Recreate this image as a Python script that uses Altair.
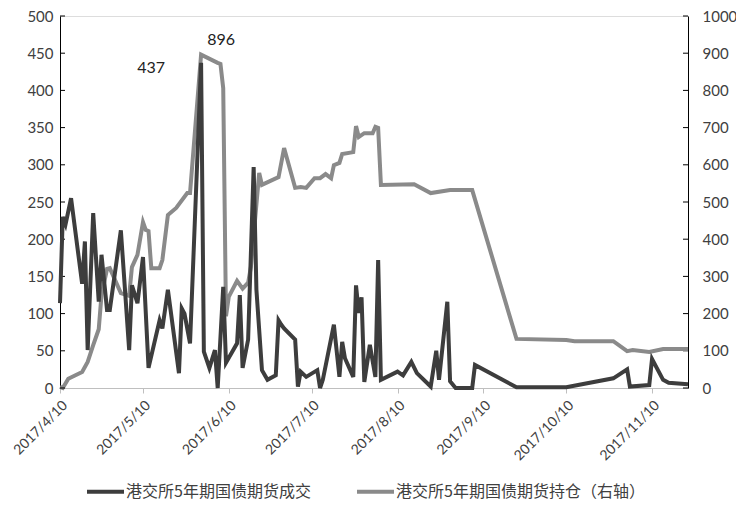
import altair as alt
import pandas as pd

# ---- data ----
series_names = ["港交所5年期国债期货成交", "港交所5年期国债期货持仓（右轴）"]

vol_dates = ["2017-04-10", "2017-04-11", "2017-04-12", "2017-04-14", "2017-04-18", "2017-04-19",
             "2017-04-20", "2017-04-22", "2017-04-24", "2017-04-25", "2017-04-27", "2017-04-28",
             "2017-05-02", "2017-05-05", "2017-05-06", "2017-05-08", "2017-05-10", "2017-05-12",
             "2017-05-16", "2017-05-17", "2017-05-19", "2017-05-23", "2017-05-24", "2017-05-25",
             "2017-05-27", "2017-05-31", "2017-06-01", "2017-06-03", "2017-06-05", "2017-06-06",
             "2017-06-08", "2017-06-09", "2017-06-13", "2017-06-14", "2017-06-15", "2017-06-17",
             "2017-06-19", "2017-06-20", "2017-06-22", "2017-06-24", "2017-06-27", "2017-06-28",
             "2017-06-29", "2017-06-30", "2017-07-04", "2017-07-05", "2017-07-06", "2017-07-08",
             "2017-07-12", "2017-07-13", "2017-07-14", "2017-07-18", "2017-07-20", "2017-07-21",
             "2017-07-22", "2017-07-25", "2017-07-26", "2017-07-27", "2017-07-28", "2017-07-29",
             "2017-07-31", "2017-08-02", "2017-08-03", "2017-08-04", "2017-08-10", "2017-08-12",
             "2017-08-15", "2017-08-17", "2017-08-22", "2017-08-24", "2017-08-25", "2017-08-28",
             "2017-08-29", "2017-08-31", "2017-09-06", "2017-09-07", "2017-09-22", "2017-10-10",
             "2017-10-27", "2017-11-01", "2017-11-02", "2017-11-09", "2017-11-10", "2017-11-14",
             "2017-11-16", "2017-11-23"]
vol_values = [114, 230, 220, 255, 140, 197,
              51, 235, 116, 179, 105, 105,
              212, 51, 138, 114, 176, 27,
              91, 80, 132, 20, 107, 100,
              60, 437, 49, 27, 51, 0,
              136, 34, 60, 125, 27, 65,
              297, 132, 24, 11, 17, 91,
              85, 80, 65, 2, 22, 15,
              24, 0, 11, 85, 15, 62,
              40, 15, 138, 101, 122, 8,
              58, 15, 172, 11, 22, 17,
              35, 20, 2, 50, 11, 116,
              9, 0, 0, 31, 1, 1,
              13, 25, 2, 4, 39, 11,
              7, 5]

oi_dates = ["2017-04-10", "2017-04-11", "2017-04-13", "2017-04-18", "2017-04-20", "2017-04-22",
            "2017-04-24", "2017-04-25", "2017-04-27", "2017-04-28", "2017-05-02", "2017-05-05",
            "2017-05-06", "2017-05-08", "2017-05-10", "2017-05-11", "2017-05-12", "2017-05-13",
            "2017-05-16", "2017-05-17", "2017-05-19", "2017-05-22", "2017-05-26", "2017-05-27",
            "2017-05-31", "2017-06-06", "2017-06-07", "2017-06-08", "2017-06-09", "2017-06-10",
            "2017-06-13", "2017-06-15", "2017-06-17", "2017-06-18", "2017-06-21", "2017-06-22",
            "2017-06-28", "2017-06-30", "2017-07-04", "2017-07-06", "2017-07-08", "2017-07-11",
            "2017-07-13", "2017-07-15", "2017-07-17", "2017-07-18", "2017-07-20", "2017-07-21",
            "2017-07-25", "2017-07-26", "2017-07-27", "2017-07-29", "2017-08-01", "2017-08-02",
            "2017-08-03", "2017-08-04", "2017-08-16", "2017-08-22", "2017-08-29", "2017-09-06",
            "2017-09-22", "2017-10-10", "2017-10-13", "2017-10-27", "2017-11-01", "2017-11-03",
            "2017-11-09", "2017-11-14", "2017-11-23"]
oi_values = [3, 0, 25, 43, 70, 115,
             158, 250, 320, 322, 255, 248,
             325, 358, 446, 425, 422, 322,
             322, 344, 465, 484, 524, 524,
             896, 874, 871, 806, 193, 245,
             288, 267, 283, 325, 578, 546,
             567, 645, 538, 540, 538, 564,
             564, 575, 564, 599, 605, 629,
             634, 704, 675, 685, 685, 702,
             699, 546, 548, 524, 532, 532,
             132, 129, 126, 126, 99, 102,
             97, 105, 105]

note_dates = ["2017-05-31", "2017-05-31"]
note_values = [437, 896]
note_labels = ["437", "896"]

tick_months = [4, 5, 6, 7, 8, 9, 10, 11]
left_ticks = list(range(0, 501, 50))
right_ticks = list(range(0, 1001, 100))

dark = "#3d3d3d"
grey = "#8a8a8a"
font = "Lato"

vol_df = pd.DataFrame({"date": vol_dates, "value": vol_values, "series": series_names[0]})
oi_df = pd.DataFrame({"date": oi_dates, "value": oi_values, "series": series_names[1]})
note_l = pd.DataFrame({"date": note_dates[:1], "value": note_values[:1], "label": note_labels[:1]})
note_r = pd.DataFrame({"date": note_dates[1:], "value": note_values[1:], "label": note_labels[1:]})
lt_df = pd.DataFrame({"value": left_ticks})
rt_df = pd.DataFrame({"value": right_ticks})

x_scale = alt.Scale(type="utc",
                    domain=[alt.DateTime(year=2017, month=4, date=10, utc=True),
                            alt.DateTime(year=2017, month=11, date=23, utc=True)],
                    nice=False)
x_axis = alt.Axis(values=[alt.DateTime(year=2017, month=m, date=10, utc=True) for m in tick_months],
                  labelExpr="utcFormat(datum.value, '%Y/%-m/%-d')",
                  labelAngle=-45, labelAlign="right", labelOffset=5,
                  labelBaseline="middle", labelPadding=10, tickSize=5, tickColor="#bfbfbf",
                  domainColor="#bfbfbf", labelFont=font, labelFontSize=14, labelColor="#404040",
                  title=None, grid=False, labelOverlap=False)
x_enc = alt.X("date:T", scale=x_scale, axis=x_axis)

color = alt.Color("series:N",
                  scale=alt.Scale(domain=series_names, range=[dark, grey]),
                  legend=alt.Legend(title=None, orient="none", direction="horizontal",
                                    legendX=25, legendY=455,
                                    symbolSize=1369, symbolStrokeWidth=4, columnPadding=38,
                                    labelFont="Noto Sans CJK SC", labelFontSize=16,
                                    labelColor="#404040", labelOffset=0, labelLimit=400))

left_axis = alt.Axis(values=left_ticks, format="d", labelFont=font, labelFontSize=15,
                     labelColor="#404040", domainColor="#000000", ticks=False, labelPadding=7,
                     grid=False, title=None)
right_axis = alt.Axis(values=right_ticks, format="d", orient="right", labelFont=font,
                      labelFontSize=15, labelColor="#404040", domainColor="#000000", ticks=False,
                      labelPadding=14, grid=False, title=None)
left_scale = alt.Scale(domain=[0, 500], nice=False)
right_scale = alt.Scale(domain=[0, 1000], nice=False)

vol_line = alt.Chart(vol_df).mark_line(strokeWidth=4).encode(
    x=x_enc, y=alt.Y("value:Q", scale=left_scale, axis=left_axis), color=color)
vol_note = alt.Chart(note_l).mark_text(font=font, fontSize=16, color="#222222", dx=-50, dy=5).encode(
    x=x_enc, y=alt.Y("value:Q", scale=left_scale, axis=left_axis), text="label:N")
left_tickmarks = alt.Chart(lt_df).mark_rule(color="#000000", strokeWidth=1).encode(
    y=alt.Y("value:Q", scale=left_scale, axis=left_axis), x=alt.value(0), x2=alt.value(5))

oi_line = alt.Chart(oi_df).mark_line(strokeWidth=4).encode(
    x=x_enc, y=alt.Y("value:Q", scale=right_scale, axis=right_axis), color=color)
oi_note = alt.Chart(note_r).mark_text(font=font, fontSize=16, color="#222222", dx=20, dy=-15).encode(
    x=x_enc, y=alt.Y("value:Q", scale=right_scale, axis=right_axis), text="label:N")
right_tickmarks = alt.Chart(rt_df).mark_rule(color="#000000", strokeWidth=1).encode(
    y=alt.Y("value:Q", scale=right_scale, axis=right_axis), x=alt.value(623), x2=alt.value(628))

left_layer = alt.layer(left_tickmarks, vol_line, vol_note)
right_layer = alt.layer(right_tickmarks, oi_line, oi_note)

chart = alt.layer(right_layer, left_layer).resolve_scale(y="independent").properties(
    width=628, height=372,
    autosize=alt.AutoSizeParams(type="none"),
    padding={"left": 52, "top": 8, "right": 48, "bottom": 115},
).configure_view(stroke=None).configure(background="white")

chart.save("out.html", embed_options={"renderer": "svg", "actions": False})
